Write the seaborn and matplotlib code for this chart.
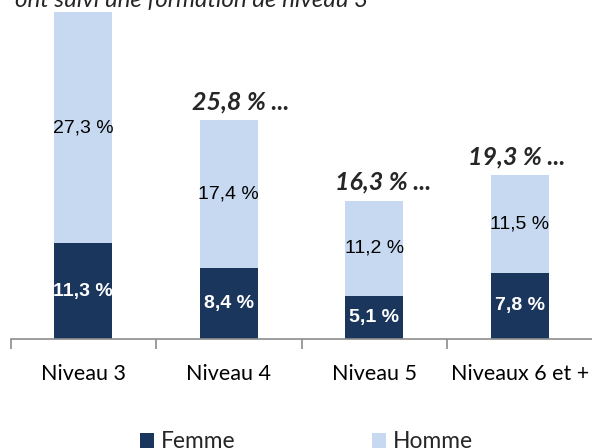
import matplotlib
matplotlib.use("Agg")
from matplotlib import pyplot as plt
from matplotlib.patches import Patch
from matplotlib.ticker import FixedLocator
import pandas as pd
import seaborn as sns

# donnees
niveaux = ["Niveau 3", "Niveau 4", "Niveau 5", "Niveaux 6 et +"]
femme = [11.3, 8.4, 5.1, 7.8]
homme = [27.3, 17.4, 11.2, 11.5]
total_labels = ["38,6 % ...", "25,8 % ...", "16,3 % ...", "19,3 % ..."]

navy = "#1b365d"
light = "#c6d9f0"

df = pd.DataFrame({"niveau": niveaux, "femme": femme, "homme": homme})
df["total"] = df["femme"] + df["homme"]

sns.set_style("white")
plt.rcParams["font.family"] = ["Lato", "DejaVu Sans"]

fig = plt.figure(figsize=(5.92, 4.48), dpi=100)
ax = fig.add_axes([10.5 / 592, 109 / 448, 582 / 592, 339 / 448])

# barres empilees : total en clair, puis femme en fonce par-dessus
sns.barplot(ax=ax, data=df, x="niveau", y="total", color=light, width=0.4,
            saturation=1, linewidth=0)
sns.barplot(ax=ax, data=df, x="niveau", y="femme", color=navy, width=0.4,
            saturation=1, linewidth=0)

ax.set_ylim(0, 40.0)
ax.set_xlim(-0.5, 3.5)
ax.set(xlabel="", ylabel="")
ax.set_yticks([])
for s in ["top", "left", "right"]:
    ax.spines[s].set_visible(False)
ax.spines["bottom"].set_color("#8c8c8c")
ax.spines["bottom"].set_linewidth(1.2)

ax.xaxis.set_minor_locator(FixedLocator([-0.5, 0.5, 1.5, 2.5, 3.5]))
ax.tick_params(axis="x", which="major", length=0, pad=18, labelsize=15.5,
               labelcolor="black")
ax.tick_params(axis="x", which="minor", length=7, width=1.2, color="#8c8c8c",
               direction="out", bottom=True)

lab_font = ["Liberation Sans", "DejaVu Sans"]
for i, row in df.iterrows():
    ax.text(i, row["femme"] / 2, f"{row['femme']:.1f} %".replace(".", ","),
            ha="center", va="center", color="white", fontsize=14,
            fontweight="bold", family=lab_font)
    ax.text(i, row["femme"] + row["homme"] / 2,
            f"{row['homme']:.1f} %".replace(".", ","),
            ha="center", va="center", color="black", fontsize=14,
            family=lab_font)

# totaux au-dessus des barres (le premier sort du cadre)
dx = [0, 0.08, 0.06, -0.02]
for i, row in df.iterrows():
    if i == 0:
        continue
    ax.text(i + dx[i], row["total"] + 2.2, total_labels[i], ha="center",
            va="center", fontsize=18, fontweight="bold", fontstyle="italic")

fig.text(15 / 592, 441 / 448, "ont suivi une formation de niveau 3",
         ha="left", va="baseline", fontsize=17.4, fontstyle="italic")

handles = [Patch(facecolor=navy, edgecolor="none"),
           Patch(facecolor=light, edgecolor="none")]
fig.legend(handles, ["Femme", "Homme"], loc="center",
           bbox_to_anchor=(0.518, 0.014), ncol=2, frameon=False,
           fontsize=16.4, handlelength=0.62, handleheight=0.62,
           handletextpad=0.3, columnspacing=6.0, borderpad=0)

fig.savefig("out.png", dpi=100)
